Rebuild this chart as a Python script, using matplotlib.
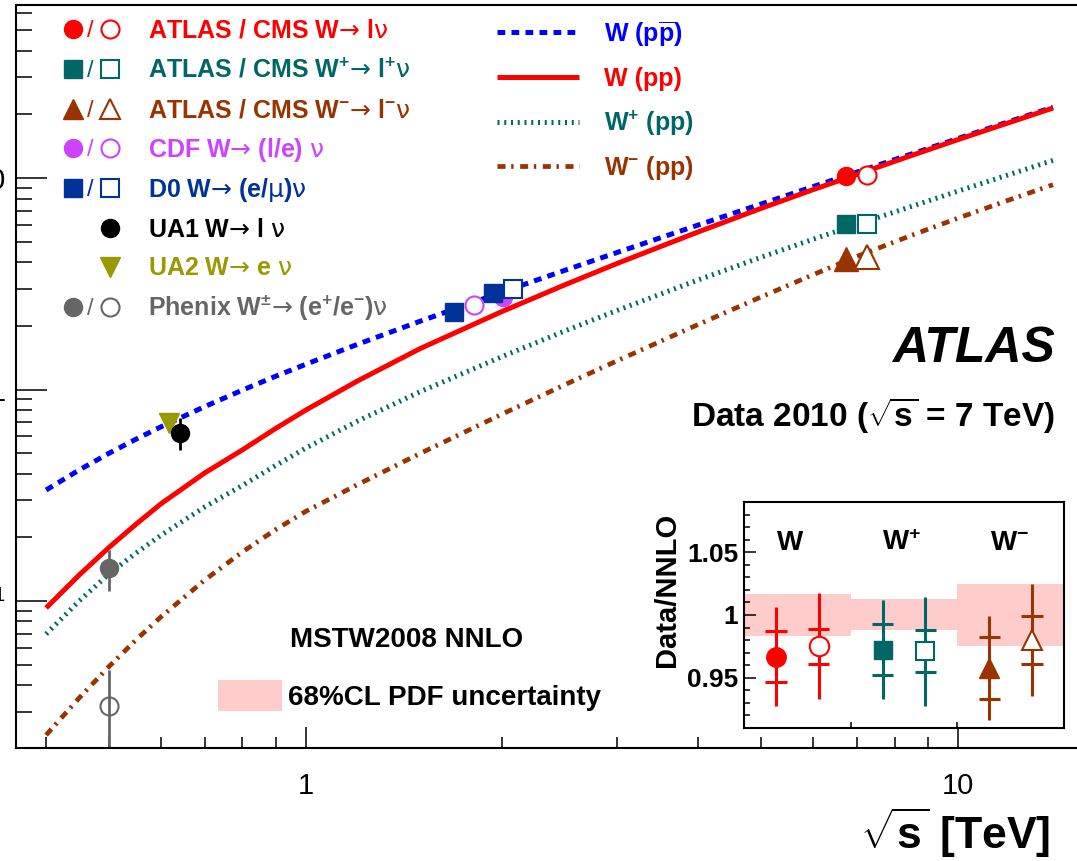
import matplotlib
matplotlib.use("Agg")
import matplotlib.pyplot as plt
from matplotlib.ticker import FixedLocator, FixedFormatter, NullFormatter, LogLocator, MultipleLocator
from matplotlib.patches import Rectangle

plt.rcParams['font.family'] = ['Liberation Sans', 'DejaVu Sans']
plt.rcParams['mathtext.fontset'] = 'custom'
plt.rcParams['mathtext.rm'] = 'Liberation Sans'
plt.rcParams['mathtext.it'] = 'Liberation Sans:italic'
plt.rcParams['mathtext.bf'] = 'Liberation Sans:bold'
plt.rcParams['mathtext.sf'] = 'DejaVu Sans'
plt.rcParams['mathtext.default'] = 'regular'

# ---------------- data ----------------
# MSTW2008 NNLO predictions, sigma x BR [nb] vs sqrt(s) [TeV]
sqrt_s_theory = [0.4, 0.45, 0.5, 0.55, 0.6, 0.7, 0.8, 0.9, 1.0, 1.2, 1.5, 2.0, 2.5, 3.0,
                 4.0, 5.0, 6.0, 7.0, 8.5, 10.0, 12.0, 14.0]
w_ppbar = [0.3348, 0.4172, 0.5004, 0.5834, 0.6662, 0.8300, 0.9935, 1.156, 1.315, 1.634,
           2.106, 2.887, 3.665, 4.440, 5.996, 7.543, 9.107, 10.66, 13.00, 15.36, 18.50, 21.64]
w_pp = [0.0927, 0.1331, 0.1798, 0.2313, 0.2881, 0.4029, 0.5182, 0.6549, 0.7983, 1.096,
        1.564, 2.337, 3.130, 3.939, 5.563, 7.196, 8.810, 10.39, 12.79, 15.18, 18.30, 21.43]
wplus_pp = [0.0698, 0.1003, 0.1348, 0.1689, 0.2045, 0.2782, 0.3520, 0.4377, 0.5279, 0.7079,
            0.978, 1.430, 1.894, 2.362, 3.297, 4.225, 5.134, 6.026, 7.347, 8.659, 10.39, 12.12]
wminus_pp = [0.02324, 0.03491, 0.04917, 0.06566, 0.08412, 0.1255, 0.1706, 0.2178, 0.2651,
             0.3545, 0.4993, 0.7646, 1.055, 1.365, 2.030, 2.744, 3.490, 4.256, 5.362, 6.454,
             7.886, 9.301]

# LHC 7 TeV measurements (ATLAS drawn left of 7 TeV, CMS right of it)
lhc_sqrt_s_atlas = 6.75
lhc_sqrt_s_cms = 7.25
w_atlas, w_cms = 10.2, 10.3
wplus_atlas, wplus_cms = 6.04, 6.04
wminus_atlas, wminus_cms = 4.12, 4.25

# Tevatron measurements
d0_sqrt_s_filled = [1.69, 1.94]
d0_filled = [2.32, 2.87]
d0_sqrt_s_open = [2.08]
d0_open = [2.99]
cdf_sqrt_s_open = [1.81]
cdf_open = [2.51]
cdf_sqrt_s_filled = [2.01]
cdf_filled = [2.75]

# SppS measurements
ua1_sqrt_s, ua1_val, ua1_err = 0.642, 0.625, 0.11
ua2_sqrt_s, ua2_val = 0.618, 0.697

# RHIC (Phenix) W+ and W-
phenix_sqrt_s = 0.5
phenix_plus, phenix_plus_lo, phenix_plus_hi = 0.144, 0.032, 0.030
phenix_minus, phenix_minus_lo, phenix_minus_hi = 0.0319, 0.031, 0.0153

# Data / NNLO ratios at 7 TeV: W (ATLAS, CMS), W+ (ATLAS, CMS), W- (ATLAS, CMS)
ratio_pos = [0.3, 0.7, 1.3, 1.7, 2.3, 2.7]
ratio_val = [0.9667, 0.9750, 0.9725, 0.9712, 0.9577, 0.9800]
ratio_inner = [0.0204, 0.0138, 0.0202, 0.0167, 0.0250, 0.0191]
ratio_outer = [0.0393, 0.0422, 0.0396, 0.0435, 0.0416, 0.0443]
band_lo = [0.9834, 0.9880, 0.9754]
band_hi = [1.0168, 1.0128, 1.0250]
group_labels = ['W', 'W$^{+}$', 'W$^{-}$']

# legend entries (thin arrow and Greek letters set in a lighter face)
ARROW = '$\\mathsf{\u2192}$'
NU = '$\\mathsf{\u03bd}$'
MU = '$\\mathsf{\u03bc}$'
leg_labels = [
    'ATLAS / CMS W' + ARROW + ' l' + NU,
    'ATLAS / CMS W$^{+}$' + ARROW + ' l$^{+}$' + NU,
    'ATLAS / CMS W$^{-}$' + ARROW + ' l$^{-}$' + NU,
    'CDF W' + ARROW + ' (l/e) ' + NU,
    'D0 W' + ARROW + ' (e/' + MU + ')' + NU,
    'UA1 W' + ARROW + ' l ' + NU,
    'UA2 W' + ARROW + ' e ' + NU,
    'Phenix W$^{\\pm}$' + ARROW + ' (e$^{+}$/e$^{-}$)' + NU,
]
theory_labels = ['W (p$\\overline{p}$)', 'W (pp)', 'W$^{+}$ (pp)', 'W$^{-}$ (pp)']

RED = '#ff0000'
TEAL = '#006666'
BROWN = '#993300'
VIOLET = '#cc44ff'
D0BLUE = '#003399'
OLIVE = '#999900'
GREY = '#666666'
BLUE = '#0000ff'
PINK = '#ffcccc'

leg_colors = [RED, TEAL, BROWN, VIOLET, D0BLUE, 'black', OLIVE, GREY]
leg_markers = ['o', 's', '^', 'o', 's', 'o', 'v', 'o']
leg_pairs = [True, True, True, True, True, False, False, True]

theory_styles = [
    dict(color=BLUE, lw=3.6, dashes=(1.55, 1.25)),
    dict(color=RED, lw=3.6),
    dict(color=TEAL, lw=3.6, dashes=(0.4, 0.95)),
    dict(color=BROWN, lw=3.4, dashes=(1.7, 1.2, 0.5, 1.4)),
]

W, H = 1077, 861
fig = plt.figure(figsize=(W / 100, H / 100), dpi=100)

def fx(px):
    return px / W

def fy(py):
    return 1 - py / H

# ---------------- main panel ----------------
left, top, bottom, right = 16, 5, 748, 1154
ax = fig.add_axes([fx(left), fy(bottom), (right - left) / W, (bottom - top) / H])
ax.set_xscale('log')
ax.set_yscale('log')
ax.set_xlim(0.35966, 20.0)
ax.set_ylim(0.02018, 65.8)

for yv, st in zip([w_ppbar, w_pp, wplus_pp, wminus_pp], theory_styles):
    ax.plot(sqrt_s_theory, yv, solid_capstyle='butt', dash_capstyle='butt',
            solid_joinstyle='round', **st)

ms_c = 13
# Phenix
ax.errorbar([phenix_sqrt_s], [phenix_plus], yerr=[[phenix_plus_lo], [phenix_plus_hi]],
            fmt='o', color=GREY, ms=ms_c, elinewidth=2.0, capsize=0)
ax.errorbar([phenix_sqrt_s], [phenix_minus], yerr=[[phenix_minus_lo], [phenix_minus_hi]],
            fmt='o', color=GREY, mfc='none', mew=1.5, ms=ms_c, elinewidth=2.0, capsize=0)
# UA2 / UA1
ax.plot([ua2_sqrt_s], [ua2_val], 'v', color=OLIVE, ms=15)
ax.errorbar([ua1_sqrt_s], [ua1_val], yerr=ua1_err, fmt='o', color='black', ms=ms_c,
            elinewidth=2.0, capsize=0)
# D0 / CDF
ax.errorbar(d0_sqrt_s_filled, d0_filled, yerr=[v * 0.04 for v in d0_filled], fmt='s',
            color=D0BLUE, ms=ms_c, elinewidth=1.5, capsize=0)
ax.errorbar(d0_sqrt_s_open, d0_open, yerr=[v * 0.04 for v in d0_open], fmt='s',
            color=D0BLUE, mfc='white', mew=1.5, ms=ms_c, elinewidth=1.5, capsize=3)
ax.errorbar(cdf_sqrt_s_open, cdf_open, yerr=[v * 0.04 for v in cdf_open], fmt='o',
            color=VIOLET, mfc='white', mew=1.5, ms=ms_c, elinewidth=1.5, capsize=3)
ax.plot(cdf_sqrt_s_filled, cdf_filled, 'o', color=VIOLET, ms=ms_c)
# LHC
for xa, xc, va, vc, col, mk, msz in [
        (lhc_sqrt_s_atlas, lhc_sqrt_s_cms, w_atlas, w_cms, RED, 'o', ms_c),
        (lhc_sqrt_s_atlas, lhc_sqrt_s_cms, wplus_atlas, wplus_cms, TEAL, 's', ms_c),
        (lhc_sqrt_s_atlas, lhc_sqrt_s_cms, wminus_atlas, wminus_cms, BROWN, '^', 17)]:
    ax.plot([xa], [va], mk, color=col, ms=msz)
    ax.errorbar([xc], [vc], yerr=vc * 0.04, fmt=mk, color=col, mfc='white', mew=1.5,
                ms=msz, elinewidth=1.5, capsize=3)

for s in ax.spines.values():
    s.set_linewidth(1.5)
ax.yaxis.set_major_locator(FixedLocator([0.1, 1, 10]))
ax.yaxis.set_major_formatter(FixedFormatter(['$10^{-1}$', '1', '10']))
ax.yaxis.set_minor_locator(LogLocator(base=10, subs=range(2, 10), numticks=20))
ax.yaxis.set_minor_formatter(NullFormatter())
ax.xaxis.set_major_locator(FixedLocator([1, 10]))
ax.xaxis.set_major_formatter(FixedFormatter(['1', '10']))
ax.xaxis.set_minor_locator(LogLocator(base=10, subs=range(2, 10), numticks=20))
ax.xaxis.set_minor_formatter(NullFormatter())
ax.tick_params(axis='y', which='major', direction='in', length=22, width=1.1, pad=7.5,
               labelsize=21)
ax.tick_params(axis='y', which='minor', direction='in', length=11.5, width=1.1)
ax.tick_params(axis='x', which='major', direction='in', length=15, width=1.1, pad=17,
               labelsize=21)
ax.tick_params(axis='x', which='minor', direction='in', length=8, width=1.1)

# ---------------- legends and captions ----------------
ov = fig.add_axes([0, 0, 1, 1])
ov.set_xlim(0, W)
ov.set_ylim(H, 0)
ov.axis('off')

rows = [29.3, 69.3, 109.3, 148.3, 188.3, 228.3, 266.7, 306.7]
for ry, lab, col, mk, pair in zip(rows, leg_labels, leg_colors, leg_markers, leg_pairs):
    msz = 15 if mk in ('^', 'v') else 13
    if pair:
        ov.plot([73], [ry], mk, color=col, ms=msz, clip_on=False)
        ov.text(90, ry + 8, '/', color=col, fontsize=17, ha='center', va='baseline')
        ov.plot([110], [ry], mk, color=col, mfc='none', mew=1.5, ms=msz, clip_on=False)
    else:
        ov.plot([110], [ry], mk, color=col, ms=msz, clip_on=False)
    ov.text(148, ry + 8.3, lab, color=col, fontsize=18, fontweight='bold',
            ha='left', va='baseline')

trows = [32.3, 77.3, 121.7, 165.7]
for ry, lab, st in zip(trows, theory_labels, theory_styles):
    ov.plot([497, 579], [ry, ry], solid_capstyle='butt', dash_capstyle='butt', **st)
    ov.text(604, ry + 9, lab, color=st['color'], fontsize=18, fontweight='bold',
            ha='left', va='baseline')

ov.text(1055, 362, 'ATLAS', fontsize=36, fontweight='bold', fontstyle='italic',
        ha='right', va='baseline')
ov.text(1055, 426, 'Data 2010 ($\\sqrt{s}$ = 7 TeV)', fontsize=24, fontweight='bold',
        ha='right', va='baseline')
ov.text(290, 647, 'MSTW2008 NNLO', fontsize=20, fontweight='bold', ha='left', va='baseline')
ov.add_patch(Rectangle((218, 680), 64, 31, facecolor=PINK, edgecolor='none'))
ov.text(288, 705, '68%CL PDF uncertainty', fontsize=20, fontweight='bold',
        ha='left', va='baseline')
ov.text(1050, 849, '$\\sqrt{s}$ [TeV]', fontsize=32, fontweight='bold',
        ha='right', va='baseline')

# ---------------- ratio inset ----------------
il, it, ir, ib = 744, 502, 1064, 728
axi = fig.add_axes([fx(il), fy(ib), (ir - il) / W, (ib - it) / H])
axi.set_xlim(0, 3)
axi.set_ylim(0.91, 1.09)
for g, (lo, hi) in enumerate(zip(band_lo, band_hi)):
    axi.add_patch(Rectangle((g, lo), 1, hi - lo, facecolor=PINK, edgecolor='none', zorder=0))

pt_colors = [RED, RED, TEAL, TEAL, BROWN, BROWN]
pt_markers = ['o', 'o', 's', 's', '^', '^']
pt_filled = [True, False, True, False, True, False]
pt_sizes = [14, 14, 13.5, 13.5, 15, 15]
for x, v, ein, eout, col, mk, fill, msz in zip(ratio_pos, ratio_val, ratio_inner, ratio_outer,
                                               pt_colors, pt_markers, pt_filled, pt_sizes):
    axi.vlines(x, v - eout, v + eout, color=col, lw=2.2, zorder=2)
    axi.hlines([v - ein, v + ein], x - 0.1, x + 0.1, color=col, lw=2.2, zorder=2)
    if fill:
        axi.plot([x], [v], mk, color=col, ms=msz, zorder=3)
    else:
        axi.plot([x], [v], mk, color=col, mfc='white', mew=1.5, ms=msz, zorder=3)

for g, lab in zip([0.31, 1.29, 2.31], group_labels):
    axi.text(g, 1.052, lab, fontsize=20, fontweight='bold', ha='left', va='baseline')

for s in axi.spines.values():
    s.set_linewidth(1.5)
axi.yaxis.set_major_locator(FixedLocator([0.95, 1.0, 1.05]))
axi.yaxis.set_major_formatter(FixedFormatter(['0.95', '1', '1.05']))
axi.yaxis.set_minor_locator(MultipleLocator(0.01))
axi.xaxis.set_major_locator(FixedLocator([1, 2]))
axi.xaxis.set_major_formatter(NullFormatter())
axi.tick_params(axis='y', which='major', direction='in', length=8.6, width=1.1, pad=4,
                labelsize=19)
for lbl in axi.get_yticklabels():
    lbl.set_fontweight('bold')
axi.tick_params(axis='y', which='minor', direction='in', length=4.3, width=1.1)
axi.tick_params(axis='x', which='major', direction='in', length=4.3, width=1.1)
axi.text(-0.24, 0.61, 'Data/NNLO', rotation=90, fontsize=21, fontweight='bold',
         ha='center', va='center', transform=axi.transAxes)

fig.savefig('out.png', dpi=100)
